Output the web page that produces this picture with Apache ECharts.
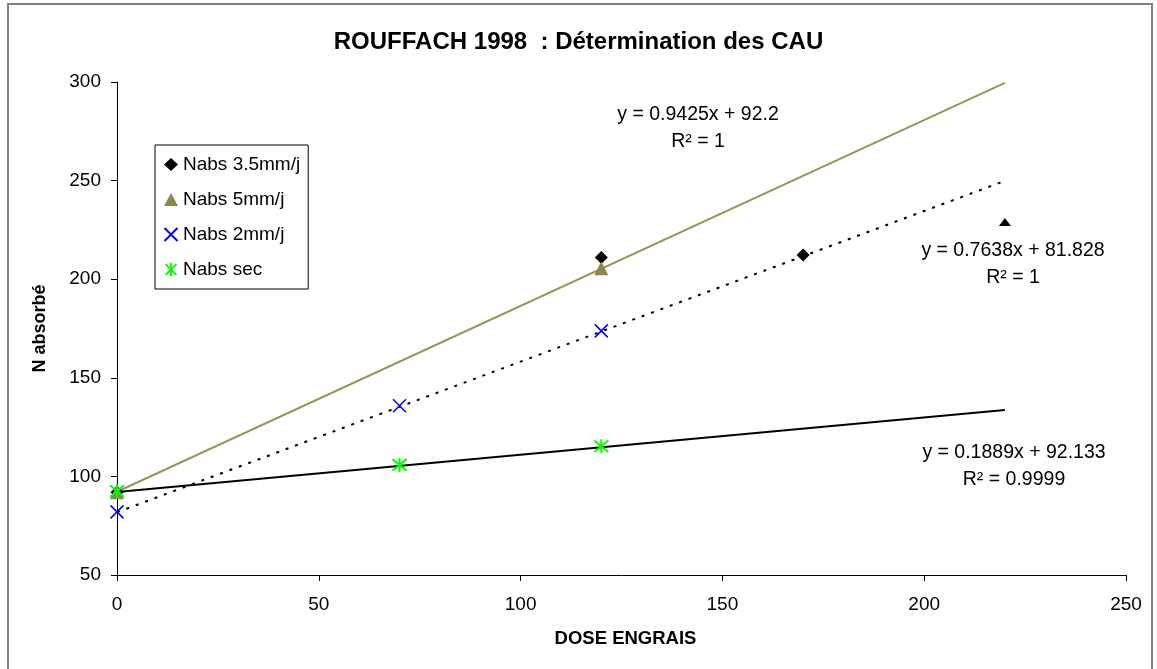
<!DOCTYPE html>
<html>
<head>
<meta charset="utf-8">
<script src="https://cdn.jsdelivr.net/npm/echarts@6/dist/echarts.min.js"></script>
<style>html,body{margin:0;padding:0;background:#fff;}#c{width:1157px;height:669px;}</style>
</head>
<body>
<div id="c"></div>
<script>
// Data
const nabs35 = [[0, 92], [120, 211], [170, 212.3], [220, 229]];
const nabs5 = [[0, 92], [120, 205.5]];
const nabs2 = [[0, 82], [70, 135.8], [120, 173.8]];
const nabsSec = [[0, 92.5], [70, 105.8], [120, 115.3]];
// Trend line endpoints (from the displayed equations)
const trend5 = [[0, 92.2], [220, 299.55]];
const trend2 = [[0, 81.828], [220, 249.86]];
const trendSec = [[0, 92.133], [220, 133.69]];
const eqTexts = [
  ['y = 0.9425x + 92.2', 'R² = 1'],
  ['y = 0.7638x + 81.828', 'R² = 1'],
  ['y = 0.1889x + 92.133', 'R² = 0.9999']
];
const xTicks = [0, 50, 100, 150, 200, 250];
const yTicks = [50, 100, 150, 200, 250, 300];

const FONT = 'Liberation Sans, Arial, sans-serif';
const chart = echarts.init(document.getElementById('c'));
const olive = '#9B9455';
const oliveMark = '#8C864A';
const xSym = 'path://M0,0L10,10M10,0L0,10';
const starSym = 'path://M0,0L10,10M10,0L0,10M5,-1L5,11';

function eqGraphic(lines, cx, y) {
  return {
    type: 'text', x: cx, y: y,
    style: { text: lines.join('\n'), align: 'center', verticalAlign: 'top', font: '19.5px ' + FONT, fill: '#000', lineHeight: 27 }
  };
}

chart.setOption({
  animation: false,
  backgroundColor: '#fff',
  title: {
    text: 'ROUFFACH 1998  : Détermination des CAU',
    left: 'center', top: 25,
    textStyle: { fontFamily: FONT, fontSize: 24, fontWeight: 'bold', color: '#000' }
  },
  grid: { left: 117, right: 31, top: 82, bottom: 94 },
  legend: {
    orient: 'vertical', left: 155, top: 145,
    data: ['Nabs 3.5mm/j', 'Nabs 5mm/j', 'Nabs 2mm/j', 'Nabs sec'],
    borderColor: '#000', borderWidth: 1, padding: [10, 8, 10, 7],
    itemGap: 16, itemWidth: 14, itemHeight: 13,
    textStyle: { fontFamily: FONT, fontSize: 19, color: '#000' },
    backgroundColor: '#fff'
  },
  xAxis: {
    type: 'value', min: 0, max: 250, interval: 50,
    name: 'DOSE ENGRAIS', nameLocation: 'middle', nameGap: 54,
    nameTextStyle: { fontFamily: FONT, fontSize: 18.5, fontWeight: 'bold', color: '#000', padding: [0, 0, 0, 8] },
    axisLine: { lineStyle: { color: '#000', width: 1 } },
    axisTick: { show: true, length: 6, lineStyle: { color: '#000' } },
    axisLabel: { fontFamily: FONT, fontSize: 19, color: '#000', margin: 20 },
    splitLine: { show: false }
  },
  yAxis: {
    type: 'value', min: 50, max: 300, interval: 50,
    name: 'N absorbé', nameLocation: 'middle', nameGap: 68,
    nameTextStyle: { fontFamily: FONT, fontSize: 18, fontWeight: 'bold', color: '#000' },
    axisLine: { show: true, lineStyle: { color: '#000', width: 1 } },
    axisTick: { show: true, length: 6, lineStyle: { color: '#000' } },
    axisLabel: { fontFamily: FONT, fontSize: 19, color: '#000', margin: 16 },
    splitLine: { show: false }
  },
  series: [
    { name: 'trend5', type: 'line', data: trend5, symbol: 'none', lineStyle: { color: olive, width: 2 }, z: 1 },
    { name: 'trend2', type: 'line', data: trend2, symbol: 'none', lineStyle: { color: '#000', width: 2, type: [3, 7] }, z: 1 },
    { name: 'trendSec', type: 'line', data: trendSec, symbol: 'none', lineStyle: { color: '#000', width: 2 }, z: 1 },
    { name: 'Nabs 3.5mm/j', type: 'scatter', symbol: 'diamond', symbolSize: 13,
      itemStyle: { color: '#000', opacity: 1 },
      data: nabs35.map((p, i) => i === nabs35.length - 1 ? { value: p, symbol: 'triangle', symbolSize: [12, 8] } : p), z: 3 },
    { name: 'Nabs 5mm/j', type: 'scatter', symbol: 'triangle', symbolSize: 14,
      itemStyle: { color: oliveMark, opacity: 1 }, data: nabs5, z: 4 },
    { name: 'Nabs 2mm/j', type: 'scatter', symbol: xSym, symbolSize: 13,
      itemStyle: { color: 'none', borderColor: '#0000FF', borderWidth: 1.5, opacity: 1 }, data: nabs2, z: 5 },
    { name: 'Nabs sec', type: 'scatter', symbol: starSym, symbolSize: 14,
      itemStyle: { color: 'none', borderColor: '#00FF00', borderWidth: 2, opacity: 1 }, data: nabsSec, z: 6 }
  ],
  graphic: [
    { type: 'rect', shape: { x: 8, y: 4, width: 1144, height: 680 }, style: { fill: 'none', stroke: '#808080', lineWidth: 2 }, silent: true, z: -10 },
    eqGraphic(eqTexts[0], 698, 101),
    eqGraphic(eqTexts[1], 1013, 237),
    eqGraphic(eqTexts[2], 1014, 439)
  ]
});
</script>
</body>
</html>
